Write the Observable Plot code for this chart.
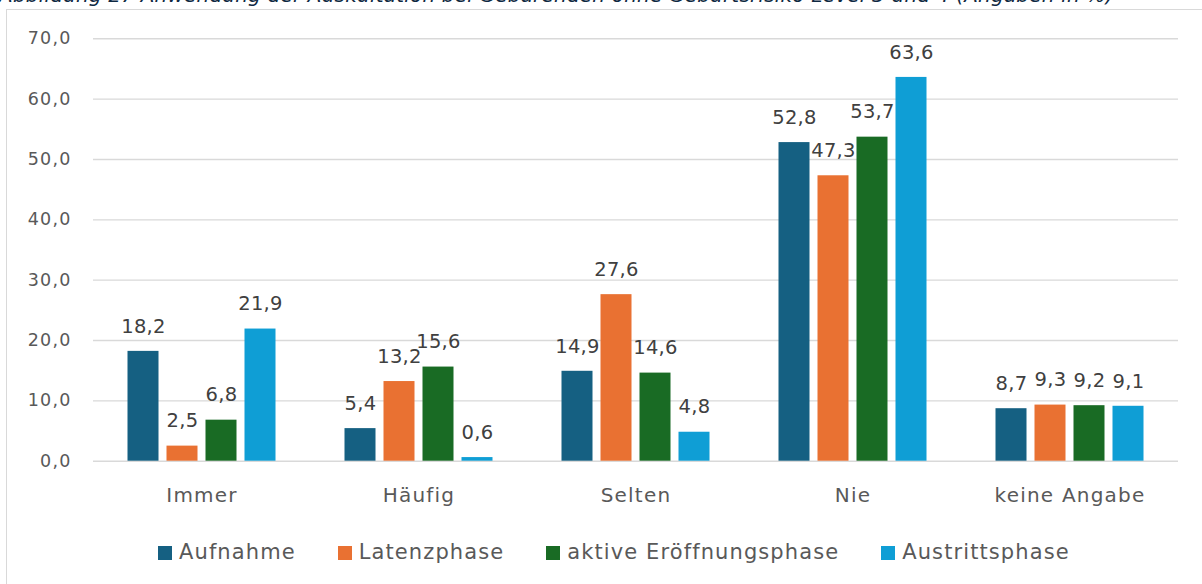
<!DOCTYPE html>
<html>
<head>
<meta charset="utf-8">
<script src="https://cdn.jsdelivr.net/npm/d3@7"></script>
<script src="https://cdn.jsdelivr.net/npm/@observablehq/plot@0.6"></script>
<style>
  html, body { margin: 0; padding: 0; background: #fff; overflow: hidden; }
  body { width: 1202px; height: 584px; position: relative; font-family: "DejaVu Sans", sans-serif; }
  #title { position: absolute; left: -1px; top: -17px; white-space: nowrap; font-style: italic; font-size: 20px; letter-spacing: 0.2px; color: #0E2841; }
  #frame { position: absolute; left: 6px; top: 9px; width: 1300px; height: 700px; border-left: 1.5px solid #d9d9d9; border-top: 1.5px solid #d9d9d9; }
  #chart { position: absolute; left: 0; top: 0; }
  #legend { position: absolute; left: 158px; top: 540px; display: flex; align-items: center; font-size: 21px; color: #595959; letter-spacing: 1.1px; }
  .item { display: flex; align-items: center; margin-right: 42px; }
  .sw { width: 14px; height: 14px; margin-right: 7px; margin-top: 2px; }
  .vl text { letter-spacing: 0.3px; }
  .ax text { letter-spacing: 1.2px; }
</style>
</head>
<body>
<div id="title">Abbildung 27 Anwendung der Auskultation bei Gebärenden ohne Geburtsrisiko Level 3 und 4 (Angaben in %)</div>
<div id="frame"></div>
<div id="chart"></div>
<div id="legend"></div>
<script>
const categories = ["Immer", "Häufig", "Selten", "Nie", "keine Angabe"];
const series = ["Aufnahme", "Latenzphase", "aktive Eröffnungsphase", "Austrittsphase"];
const aufnahme = [18.2, 5.4, 14.9, 52.8, 8.7];
const latenzphase = [2.5, 13.2, 27.6, 47.3, 9.3];
const aktiveEroeffnungsphase = [6.8, 15.6, 14.6, 53.7, 9.2];
const austrittsphase = [21.9, 0.6, 4.8, 63.6, 9.1];
const yTicks = [0, 10, 20, 30, 40, 50, 60, 70];

const seriesValues = [aufnahme, latenzphase, aktiveEroeffnungsphase, austrittsphase];
const colors = ["#156082", "#E97132", "#196B24", "#0F9ED5"];

const rows = [];
categories.forEach((c, i) => {
  series.forEach((s, j) => rows.push({category: c, series: s, value: seriesValues[j][i]}));
});

const fmt = d => d.toFixed(1).replace(".", ",");

const chart = Plot.plot({
  width: 1202,
  height: 510,
  marginLeft: 91.5,
  marginRight: 22,
  marginTop: 38.3,
  marginBottom: 49.3,
  style: {fontFamily: "DejaVu Sans", background: "transparent", overflow: "visible"},
  fx: {domain: categories, padding: 0, label: null},
  x: {domain: series, paddingInner: 0.215, paddingOuter: 0.87, axis: null},
  y: {domain: [0, 70], axis: null},
  color: {domain: series, range: colors},
  marks: [
    Plot.ruleY(yTicks, {stroke: "#d9d9d9", strokeWidth: 1.4}),
    Plot.barY(rows, {fx: "category", x: "series", y: "value", fill: "series"}),
    Plot.text(rows, {fx: "category", x: "series", y: "value", text: d => fmt(d.value), dy: -25, lineAnchor: "middle", fontSize: 19.5, fill: "#404040", className: "vl"}),
    Plot.axisY({ticks: yTicks, tickFormat: fmt, tickSize: 0, tickPadding: 22, fontSize: 17.5, color: "#595959", label: null, className: "ax"}),
    Plot.axisFx({anchor: "bottom", tickSize: 0, tickPadding: 27, fontSize: 20, color: "#595959", label: null, className: "ax"})
  ]
});
document.getElementById("chart").appendChild(chart);

const legend = document.getElementById("legend");
series.forEach((s, j) => {
  const item = document.createElement("div");
  item.className = "item";
  const sw = document.createElement("span");
  sw.className = "sw";
  sw.style.background = colors[j];
  const t = document.createElement("span");
  t.textContent = s;
  item.appendChild(sw);
  item.appendChild(t);
  legend.appendChild(item);
});
</script>
</body>
</html>
